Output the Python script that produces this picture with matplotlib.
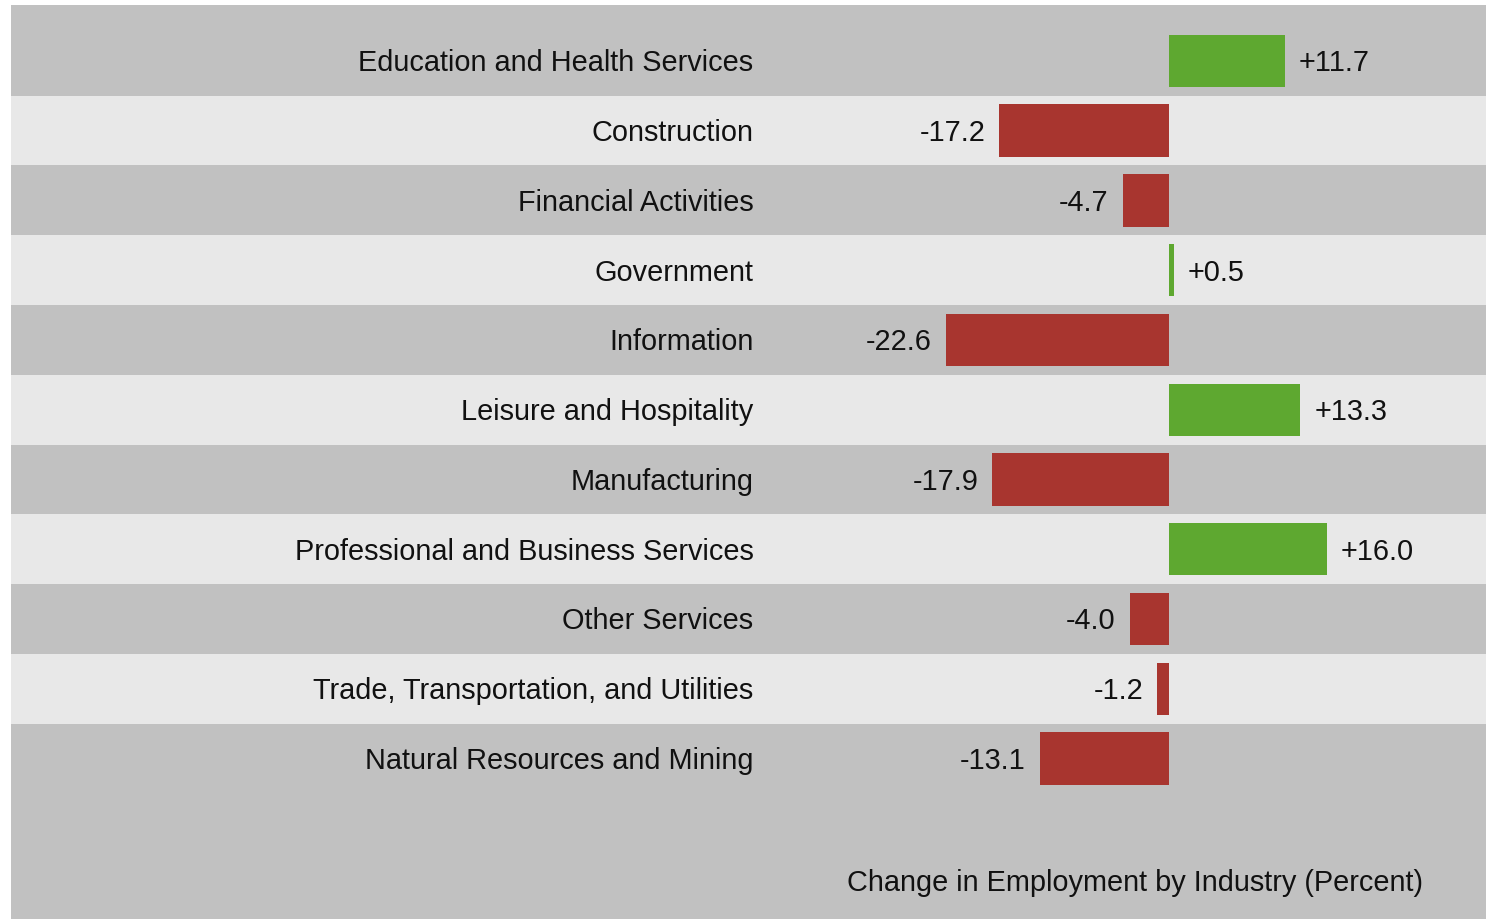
import matplotlib
matplotlib.use('Agg')
import matplotlib.pyplot as plt

# Industries from top to bottom and their percent change in employment
industries = ['Education and Health Services',
              'Construction',
              'Financial Activities',
              'Government',
              'Information',
              'Leisure and Hospitality',
              'Manufacturing',
              'Professional and Business Services',
              'Other Services',
              'Trade, Transportation, and Utilities',
              'Natural Resources and Mining']
changes = [11.7, -17.2, -4.7, 0.5, -22.6, 13.3, -17.9, 16.0, -4.0, -1.2, -13.1]

title = 'Change in Employment by Industry (Percent)'

green = '#5ea830'
red = '#a8352f'
dark_bg = '#c1c1c1'
light_bg = '#e8e8e8'

plt.rcParams['font.family'] = ['Liberation Sans', 'DejaVu Sans']

fig = plt.figure(figsize=(14.86, 9.2), dpi=100)
ax = fig.add_axes([11 / 1486, 0, 1475 / 1486, 914 / 920])
ax.set_facecolor(dark_bg)
for s in ax.spines.values():
    s.set_visible(False)
ax.set_xticks([])
ax.set_yticks([])

rows = list(range(len(industries)))

# alternating light bands
for i in rows:
    if i % 2 == 1:
        ax.axhspan(i - 0.5, i + 0.5, color=light_bg, lw=0, zorder=0)

colors = [green if v >= 0 else red for v in changes]
ax.barh(rows, changes, height=0.75, color=colors, zorder=2)

fs = 20.8
for i, (name, v) in enumerate(zip(industries, changes)):
    ax.text(-42.1, i + 0.02, name, ha='right', va='center', fontsize=fs, color='#111111')
    if v >= 0:
        ax.annotate(f'{v:+.1f}', (v, i + 0.02), xytext=(10, 0), textcoords='offset points',
                    ha='left', va='center', fontsize=fs, color='#111111')
    else:
        ax.annotate(f'{v:+.1f}', (v, i + 0.02), xytext=(-10, 0), textcoords='offset points',
                    ha='right', va='center', fontsize=fs, color='#111111')

ax.text(25.7, 11.77, title, ha='right', va='center', fontsize=20.8, color='#111111')

ax.set_xlim(-117.3, 32.1)
ax.set_ylim(12.30, -0.80)

fig.savefig('out.png', dpi=100, facecolor='white')
